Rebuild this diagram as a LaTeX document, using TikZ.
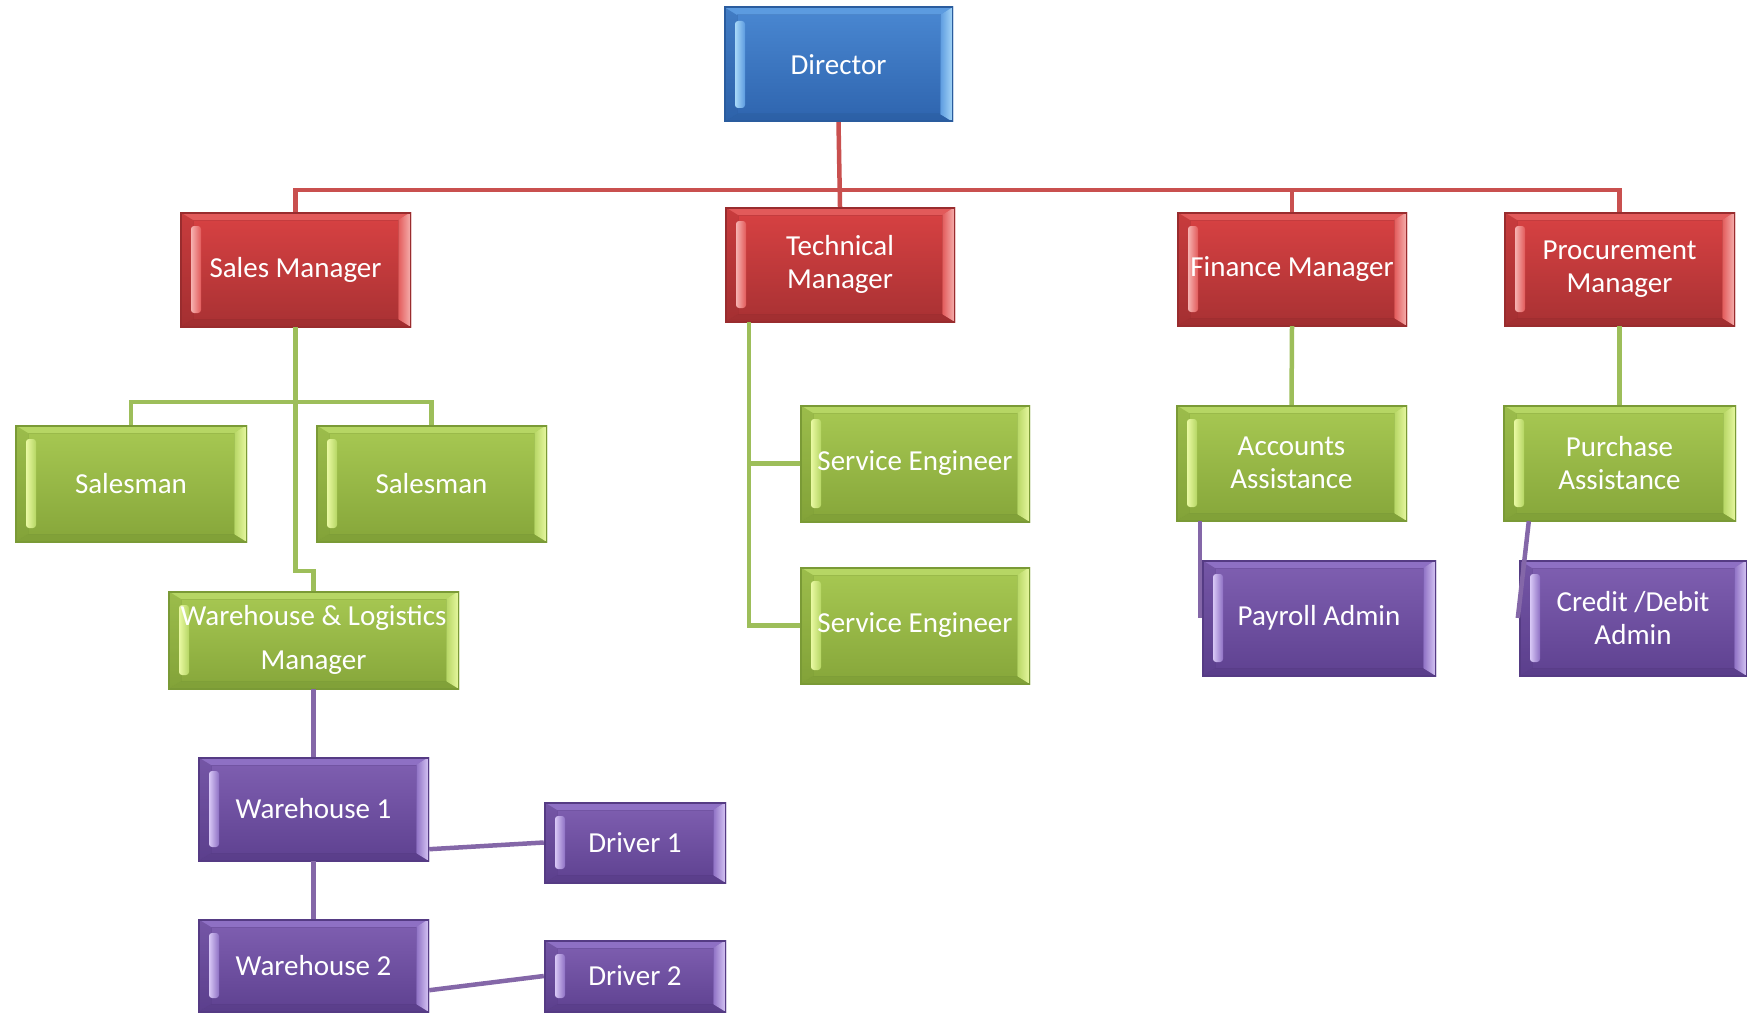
\documentclass[tikz,border=0pt]{standalone}
\usepackage{fontspec}
\setmainfont{Carlito}
\definecolor{blueT}{HTML}{4A88D2}
\definecolor{blueB}{HTML}{2E64AE}
\definecolor{blueL}{HTML}{5C9BE0}
\definecolor{blueH}{HTML}{A8D8F8}
\definecolor{blueD}{HTML}{2A5C9E}
\definecolor{redT}{HTML}{D94243}
\definecolor{redB}{HTML}{A83133}
\definecolor{redL}{HTML}{E25A5A}
\definecolor{redH}{HTML}{F6B2B0}
\definecolor{redD}{HTML}{992C2E}
\definecolor{grnT}{HTML}{A8C953}
\definecolor{grnB}{HTML}{86A63A}
\definecolor{grnL}{HTML}{B6D664}
\definecolor{grnH}{HTML}{E9F9A2}
\definecolor{grnD}{HTML}{7A9A36}
\definecolor{purT}{HTML}{8060B2}
\definecolor{purB}{HTML}{5E4190}
\definecolor{purL}{HTML}{8E70C4}
\definecolor{purH}{HTML}{D8C8F6}
\definecolor{purD}{HTML}{553B84}
\definecolor{lnred}{HTML}{C9504F}
\definecolor{lngrn}{HTML}{9DBE5A}
\definecolor{lnpur}{HTML}{8467A8}
\newcommand\boxfont{\fontsize{29}{33}\selectfont}
\newcommand\bevelpic[3]{%
  \coordinate (bnw) at (path picture bounding box.north west);
  \coordinate (bne) at (path picture bounding box.north east);
  \coordinate (bsw) at (path picture bounding box.south west);
  \coordinate (bse) at (path picture bounding box.south east);
  \fill[#1] (bnw) -- (bne) -- ([shift={(-13pt,-8pt)}]bne) -- ([shift={(13pt,-8pt)}]bnw) -- cycle;
  \fill[#3, opacity=.45] (bsw) -- (bse) -- ([shift={(-13pt,8pt)}]bse) -- ([shift={(13pt,8pt)}]bsw) -- cycle;
  \fill[#3, opacity=.25] (bnw) -- ([shift={(13pt,-8pt)}]bnw) -- ([shift={(13pt,8pt)}]bsw) -- (bsw) -- cycle;
  \shade[left color=#1, right color=#2] ([shift={(-13pt,-8pt)}]bne) -- (bne) -- (bse) -- ([shift={(-13pt,8pt)}]bse) -- cycle;
  \draw[#3, opacity=.3, line width=1pt] ([shift={(13pt,-8pt)}]bnw) rectangle ([shift={(-13pt,8pt)}]bse);
  \shade[left color=#2, right color=#1, rounded corners=3pt] ([shift={(11pt,-14pt)}]bnw) rectangle ([shift={(21pt,14pt)}]bsw);
  \draw[#3, line width=3pt] (bnw) rectangle (bse);
}
\tikzset{
  bx/.style={inner sep=0pt, align=center, text=white, font=\boxfont},
  bluebox/.style={bx, top color=blueT, bottom color=blueB, path picture={\bevelpic{blueL}{blueH}{blueD}}},
  redbox/.style={bx, top color=redT, bottom color=redB, path picture={\bevelpic{redL}{redH}{redD}}},
  grnbox/.style={bx, top color=grnT, bottom color=grnB, path picture={\bevelpic{grnL}{grnH}{grnD}}},
  purbox/.style={bx, top color=purT, bottom color=purB, path picture={\bevelpic{purL}{purH}{purD}}},
  redline/.style={draw=lnred, line width=4.5pt},
  grnline/.style={draw=lngrn, line width=4.5pt},
  purline/.style={draw=lnpur, line width=4.5pt},
}
\begin{document}
\begin{tikzpicture}[x=1pt,y=-1pt]
\useasboundingbox (0,0) rectangle (1747,1014);
% nodes
\node[bluebox, minimum width=229pt, minimum height=115pt] (dir) at (838.5,64.5) {Director};
\node[redbox, minimum width=231pt, minimum height=115pt] (sales) at (295.5,269.5) {Sales Manager};
\node[redbox, minimum width=230pt, minimum height=115pt] (tech) at (840,264.5) {Technical\\Manager};
\node[redbox, minimum width=230pt, minimum height=114pt] (fin) at (1292,269) {Finance Manager};
\node[redbox, minimum width=231pt, minimum height=114pt] (proc) at (1619.5,269) {Procurement\\Manager};
\node[grnbox, minimum width=232pt, minimum height=117pt] (sm1) at (131,483.5) {Salesman};
\node[grnbox, minimum width=231pt, minimum height=117pt] (sm2) at (431.5,483.5) {Salesman};
\node[grnbox, minimum width=291pt, minimum height=98pt] (wl) at (313.5,640) {Warehouse \& Logistics\\[11pt]Manager};
\node[purbox, minimum width=231pt, minimum height=104pt] (w1) at (313.5,809) {Warehouse 1};
\node[purbox, minimum width=231pt, minimum height=93pt] (w2) at (313.5,965.5) {Warehouse 2};
\node[purbox, minimum width=182pt, minimum height=81pt] (d1) at (635,842.5) {Driver 1};
\node[purbox, minimum width=182pt, minimum height=72pt] (d2) at (635,976) {Driver 2};
\node[grnbox, minimum width=230pt, minimum height=117pt] (se1) at (915,463.5) {Service Engineer};
\node[grnbox, minimum width=230pt, minimum height=117pt] (se2) at (915,625.5) {Service Engineer};
\node[grnbox, minimum width=231pt, minimum height=116pt] (aa) at (1291.5,463) {Accounts\\Assistance};
\node[purbox, minimum width=234pt, minimum height=116pt] (pay) at (1319,618) {Payroll Admin};
\node[grnbox, minimum width=233pt, minimum height=116pt] (pur) at (1619.5,463) {Purchase\\Assistance};
\node[purbox, minimum width=228pt, minimum height=116pt] (cd) at (1633,618) {Credit /Debit\\Admin};
% red connectors
\coordinate (rb) at (0,190);
\draw[redline] (sales.north) -- (sales.north|-rb) -- (proc.north|-rb) -- (proc.north);
\draw[redline] (dir.south) -- (tech.north);
\draw[redline] (fin.north) -- (fin.north|-rb);
% green connectors
\coordinate (gb) at (0,402);
\coordinate (gj) at (0,571);
\draw[grnline] (sales.south) -- (sales.south|-gj) -- (wl.north|-gj) -- (wl.north);
\draw[grnline] (sm1.north) -- (sm1.north|-gb) -- (sm2.north|-gb) -- (sm2.north);
\coordinate (tv) at (749,0);
\draw[grnline] (tech.south-|tv) |- (se2.west);
\draw[grnline] (se1.west-|tv) -- (se1.west);
\draw[grnline] (fin.south) -- (aa.north);
\draw[grnline] (proc.south) -- (pur.north);
% purple connectors
\draw[purline] (wl.south) -- (w1.north);
\draw[purline] (w1.south) -- (w2.north);
\draw[purline] ([yshift=12pt]w1.south east) -- (d1.west);
\draw[purline] ([yshift=22pt]w2.south east) -- (d2.west);
\draw[purline] ([xshift=24pt]aa.south west) -- ([xshift=-2pt]pay.west);
\draw[purline] ([xshift=26pt]pur.south west) -- ([xshift=-1pt]cd.west);
\end{tikzpicture}
\end{document}
